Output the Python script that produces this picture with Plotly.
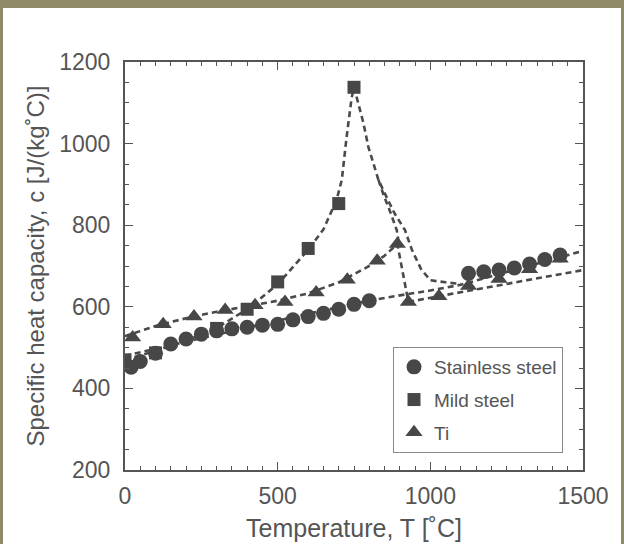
import plotly.graph_objects as go

# ---- data ----
ss_T = [20, 50, 100, 150, 200, 250, 300, 350, 400, 450, 500, 550, 600, 650, 700, 750, 800,
        1125, 1175, 1225, 1275, 1325, 1375, 1425]
ss_c = [452, 466, 486, 509, 521, 533, 541, 546, 550, 555, 557, 568, 576, 584, 594, 606, 615,
        682, 686, 690, 695, 705, 716, 727]

ms_T = [0, 100, 300, 400, 500, 600, 700, 750]
ms_c = [470, 487, 547, 594, 661, 743, 853, 1138]

ti_T = [25, 125, 226, 328, 426, 524, 626, 728, 826, 892, 928, 1028, 1125, 1225, 1325, 1425]
ti_c = [525, 557, 576, 592, 604, 612, 635, 666, 713, 754, 612, 626, 651, 668, 692, 718]

# fitted (dashed) curves
fit_ss_T = [0, 200, 400, 600, 800, 900, 1000, 1100, 1300, 1500]
fit_ss_c = [480, 515, 549, 583, 615, 628, 640, 654, 695, 737]

fit_ms_T = [0, 100, 200, 300, 400, 500, 600, 650, 693, 710, 726, 742, 750,
            759, 781, 797, 813, 830, 856, 882, 917, 940, 970, 1000, 1050, 1100]
fit_ms_c = [470, 492, 517, 548, 594, 655, 740, 790, 862, 911, 1017, 1111, 1138,
            1111, 1050, 992, 952, 911, 870, 830, 788, 739, 692, 665, 660, 656]

fit_ms2_T = [830, 848, 870, 890, 896]
fit_ms2_c = [911, 872, 830, 788, 760]

fit_ti_T = [0, 100, 200, 300, 400, 500, 600, 700, 800, 850, 892, 928, 1028, 1500]
fit_ti_c = [528, 553, 572, 588, 601, 615, 633, 660, 700, 725, 754, 612, 626, 690]

x_ticks = [0, 500, 1000, 1500]
y_ticks = [200, 400, 600, 800, 1000, 1200]

MARK = "#474747"
LINE = "#4a4a4a"
TXT = "#555555"
OLIVE = "#8f8a68"
FONT = "Liberation Sans, Arial, sans-serif"

fig = go.Figure()

dash = dict(color=LINE, width=2.6, dash="6px,4px")
for tx, cy in [(fit_ss_T, fit_ss_c), (fit_ms_T, fit_ms_c), (fit_ms2_T, fit_ms2_c), (fit_ti_T, fit_ti_c)]:
    fig.add_trace(go.Scatter(x=tx, y=cy, mode="lines", line=dash, showlegend=False, hoverinfo="skip"))

fig.add_trace(go.Scatter(x=ti_T, y=ti_c, mode="markers", name="Ti", legendgroup="c", legendrank=3,
                         marker=dict(symbol="triangle-up", size=15, color=MARK)))
fig.add_trace(go.Scatter(x=ms_T, y=ms_c, mode="markers", name="Mild steel", legendgroup="b", legendrank=2,
                         marker=dict(symbol="square", size=13, color=MARK)))
fig.add_trace(go.Scatter(x=ss_T, y=ss_c, mode="markers", name="Stainless steel", legendgroup="a", legendrank=1,
                         marker=dict(symbol="circle", size=15, color=MARK)))

L, R, T_, B = 125, 583, 62, 470
W, H = 624, 544


def px(x):
    return (x - L) / (R - L)


def py(y):
    return (B - y) / (B - T_)


shapes = [
    dict(type="rect", xref="paper", yref="paper", x0=px(0), x1=px(W), y0=py(0), y1=py(8),
         fillcolor=OLIVE, line=dict(width=0), layer="above"),
    dict(type="rect", xref="paper", yref="paper", x0=px(0), x1=px(3), y0=py(H), y1=py(0),
         fillcolor=OLIVE, line=dict(width=0), layer="above"),
    dict(type="rect", xref="paper", yref="paper", x0=px(W - 3), x1=px(W), y0=py(H), y1=py(0),
         fillcolor=OLIVE, line=dict(width=0), layer="above"),
]

axis_common = dict(
    showline=True, linecolor="#555555", linewidth=2, mirror="allticks",
    ticks="inside", ticklen=8, tickwidth=1.3, tickcolor="#555555",
    showgrid=False, zeroline=False, automargin=False,
    tickfont=dict(family=FONT, size=23, color=TXT),
)

fig.update_layout(
    width=W, height=H,
    margin=dict(l=L, r=W - R, t=T_, b=H - B),
    paper_bgcolor="white", plot_bgcolor="white",
    font=dict(family=FONT, color=TXT),
    xaxis=dict(range=[0, 1500], tickvals=x_ticks, ticktext=[str(v) for v in x_ticks],
               minor=dict(ticks="inside", ticklen=4, dtick=50, tickcolor="#555555", showgrid=False),
               ticklabelstandoff=4,
               title=dict(text="Temperature, T [˚C]", font=dict(family=FONT, size=25, color=TXT), standoff=12),
               **axis_common),
    yaxis=dict(range=[200, 1200], tickvals=y_ticks, ticktext=[str(v) for v in y_ticks],
               minor=dict(ticks="inside", ticklen=4, dtick=50, tickcolor="#555555", showgrid=False),
               ticklabelstandoff=8,
               title=dict(text="Specific heat capacity, c [J/(kg˚C)]", font=dict(family=FONT, size=24, color=TXT), standoff=8),
               **axis_common),
    legend=dict(x=px(393), y=py(347), xanchor="left", yanchor="top",
                bordercolor="#8a8a8a", borderwidth=1, bgcolor="white",
                font=dict(family=FONT, size=19, color=TXT),
                traceorder="grouped", tracegroupgap=5),
    shapes=shapes,
)

fig.write_html("out.html")
